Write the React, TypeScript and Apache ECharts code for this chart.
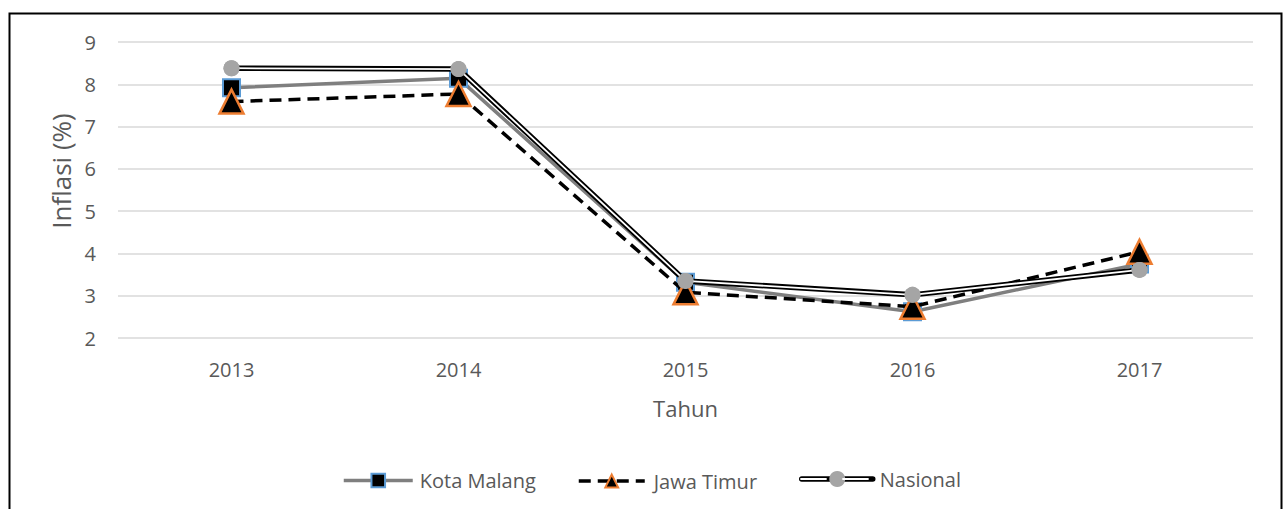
import React, { useEffect, useRef } from "react";
import * as echarts from "echarts";

const years = ["2013", "2014", "2015", "2016", "2017"];
const kotaMalang = [7.92, 8.14, 3.32, 2.62, 3.75];
const jawaTimur = [7.59, 7.77, 3.08, 2.74, 4.04];
const nasional = [8.38, 8.36, 3.35, 3.02, 3.61];

const FONT = "'Open Sans', sans-serif";
const GRAY_TEXT = "#595959";

export default function App() {
  const ref = useRef<HTMLDivElement>(null);
  useEffect(() => {
    if (!ref.current) return;
    const chart = echarts.init(ref.current, undefined, { renderer: "svg" });
    chart.setOption({
      animation: false,
      backgroundColor: "#fff",
      grid: { left: 118, right: 32, top: 42, bottom: 171, containLabel: false },
      xAxis: {
        type: "category",
        data: years,
        boundaryGap: true,
        axisLine: { show: false },
        axisTick: { show: false },
        axisLabel: { color: GRAY_TEXT, fontSize: 20, fontFamily: FONT, margin: 21 },
        name: "Tahun",
        nameLocation: "middle",
        nameGap: 59,
        nameTextStyle: { color: GRAY_TEXT, fontSize: 22, fontFamily: FONT },
      },
      yAxis: {
        type: "value",
        min: 2,
        max: 9,
        interval: 1,
        axisLine: { show: false },
        axisTick: { show: false },
        axisLabel: { color: GRAY_TEXT, fontSize: 20, fontFamily: FONT, margin: 22 },
        splitLine: { lineStyle: { color: "#d9d9d9", width: 1.5 } },
      },
      legend: [
        {
          data: ["Kota Malang"],
          left: 342,
          top: 479 - 8.5,
          padding: 0,
          itemWidth: 69,
          itemHeight: 17,
          lineStyle: { width: 3.5 },
          textStyle: { color: GRAY_TEXT, fontSize: 20, fontFamily: FONT, padding: [0, 0, 0, 2] },
        },
        {
          data: ["Jawa Timur"],
          left: 577,
          top: 479 - 8,
          padding: 0,
          itemWidth: 66,
          itemHeight: 16,
          lineStyle: { width: 3.5 },
          textStyle: { color: GRAY_TEXT, fontSize: 20, fontFamily: FONT, padding: [0, 0, 0, 4] },
        },
        {
          data: ["Nasional"],
          left: 799,
          top: 479 - 10,
          padding: 0,
          itemWidth: 71,
          itemHeight: 20,
          lineStyle: { width: 5.5, cap: "round" },
          textStyle: { color: GRAY_TEXT, fontSize: 20, fontFamily: FONT, padding: [0, 0, 0, 2] },
        },
      ],
      graphic: [
        {
          type: "rect",
          shape: { x: 9.5, y: 13.5, width: 1272, height: 520 },
          style: { fill: "none", stroke: "#000", lineWidth: 2 },
          silent: true,
          z: 100,
        },
        {
          type: "text",
          x: 61,
          y: 171,
          rotation: Math.PI / 2,
          style: {
            text: "Inflasi (%)",
            fill: GRAY_TEXT,
            font: `26px ${FONT}`,
            align: "center",
            verticalAlign: "middle",
          },
          z: 100,
        },
        {
          type: "line",
          shape: { x1: 801, y1: 479, x2: 826, y2: 479 },
          style: { stroke: "#fff", lineWidth: 1.8, lineCap: "round" },
          z: 100,
        },
        {
          type: "line",
          shape: { x1: 843, y1: 479, x2: 868, y2: 479 },
          style: { stroke: "#fff", lineWidth: 1.8, lineCap: "round" },
          z: 100,
        },
      ],
      series: [
        {
          name: "Kota Malang",
          type: "line",
          data: kotaMalang,
          z: 2,
          symbol: "rect",
          symbolSize: 17,
          lineStyle: { color: "#7f7f7f", width: 3.5 },
          itemStyle: { color: "#000", borderColor: "#5B9BD5", borderWidth: 2 },
        },
        {
          name: "Jawa Timur",
          type: "line",
          data: jawaTimur,
          z: 3,
          symbol: "triangle",
          symbolSize: 24,
          lineStyle: { color: "#000", width: 3.5, type: [12, 7] },
          itemStyle: { color: "#000", borderColor: "#ED7D31", borderWidth: 2.5 },
        },
        {
          name: "Nasional",
          type: "line",
          data: nasional,
          z: 4,
          symbol: "circle",
          symbolSize: 16,
          lineStyle: { color: "#000", width: 5.5 },
          itemStyle: { color: "#A5A5A5" },
        },
        {
          name: "Nasional inner",
          type: "line",
          data: nasional,
          z: 5,
          silent: true,
          symbol: "none",
          lineStyle: { color: "#fff", width: 1.8 },
        },
        {
          name: "Nasional marker",
          type: "scatter",
          data: nasional,
          z: 6,
          silent: true,
          symbol: "circle",
          symbolSize: 16,
          itemStyle: { color: "#A5A5A5", opacity: 1 },
        },
      ],
    });
    return () => chart.dispose();
  }, []);
  return (
    <div
      ref={ref}
      style={{ position: "fixed", left: 0, top: 0, width: 1285, height: 509, background: "#fff" }}
    />
  );
}
